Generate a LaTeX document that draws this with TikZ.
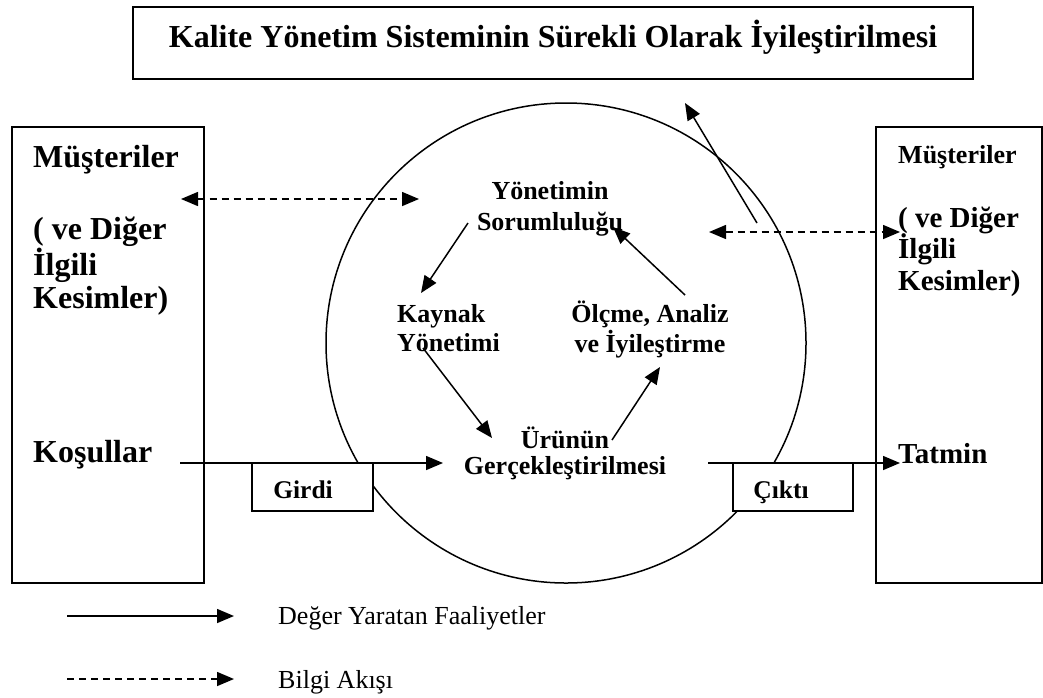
\documentclass[tikz,border=0pt]{standalone}
\usepackage{fontspec}
\setmainfont{Liberation Serif}
\usetikzlibrary{arrows.meta}
\newcommand{\myfs}[2]{\fontsize{#1}{#2}\selectfont}
\begin{document}
\begin{tikzpicture}[x=1pt,y=-1pt,
  frame/.style={draw, line width=1.6pt},
  tagbox/.style={draw, line width=1.6pt, fill=white},
  tip/.style={Triangle[length=17pt,width=14pt]},
  flow/.style={line width=1.5pt, -{Triangle[length=17pt,width=14pt]}},
  info/.style={line width=1.5pt, dash pattern=on 7pt off 5pt,
    {Triangle[length=17pt,width=14pt]}-{Triangle[length=17pt,width=14pt]}},
  infoleg/.style={line width=1.5pt, dash pattern=on 7pt off 5pt,
    -{Triangle[length=17pt,width=14pt]}},
  lbl/.style={inner sep=0pt, font=\bfseries},
]
\useasboundingbox (0,0) rectangle (1043,697);

% title frame
\draw[frame] (133,7) rectangle (973,79);
\node[lbl, anchor=base, font=\bfseries\myfs{32}{36}] (title) at (553,47)
  {Kalite Yönetim Sisteminin Sürekli Olarak İyileştirilmesi};

% side panels and the central process circle
\draw[frame] (12,127) rectangle (204,583);
\draw[frame] (876,127) rectangle (1042,583);
\draw[line width=1.5pt] (566,343) circle (240);

% input / output tags
\draw[tagbox] (252,463) rectangle (373,511);
\draw[tagbox] (733,463) rectangle (853,511);
\node[lbl, anchor=base, font=\bfseries\myfs{25.5}{28}] (girdi) at (303,498) {Girdi};
\node[lbl, anchor=base, font=\bfseries\myfs{25.5}{28}] (cikti) at (781,498) {Çıktı};

% left panel texts (multi-line nodes are placed by their last baseline)
\node[lbl, anchor=base west, font=\bfseries\myfs{32}{33}] (musL) at (33,167) {Müşteriler};
\node[lbl, anchor=base west, align=left, font=\bfseries\myfs{32}{33}] (digerL) at (33,308)
  {( ve Diğer\\İlgili\\Kesimler)};
\node[lbl, anchor=base west, font=\bfseries\myfs{32}{33}] (kosul) at (33,462) {Koşullar};

% right panel texts
\node[lbl, anchor=base west, font=\bfseries\myfs{26}{30}] (musR) at (898,163) {Müşteriler};
\node[lbl, anchor=base west, align=left, font=\bfseries\myfs{29}{31.5}] (digerR) at (898,290)
  {( ve Diğer\\İlgili\\Kesimler)};
\node[lbl, anchor=base west, font=\bfseries\myfs{29}{31}] (tatmin) at (898,463) {Tatmin};

% process texts
\node[lbl, anchor=base, align=center, font=\bfseries\myfs{26}{31}] (sorum) at (550,230)
  {Yönetimin\\Sorumluluğu};
\node[lbl, anchor=base west, align=left, font=\bfseries\myfs{26}{29}] (kaynak) at (397,351)
  {Kaynak\\Yönetimi};
\node[lbl, anchor=base, align=center, font=\bfseries\myfs{26}{30}] (olcme) at (650,352)
  {Ölçme, Analiz\\ve İyileştirme};
\node[lbl, anchor=base, align=center, font=\bfseries\myfs{26}{26}] (urun) at (565,474)
  {Ürünün\\Gerçekleştirilmesi};

% connector end points
\coordinate (kosulA) at (180,463);
\coordinate (kosulB) at (443,463);
\coordinate (ciktiA) at (708,463);
\coordinate (ciktiB) at (900,463);
\coordinate (infoLA) at (181,199);
\coordinate (infoLB) at (419,199);
\coordinate (infoRA) at (709,232);
\coordinate (infoRB) at (900,232);
\coordinate (upA) at (757,223);
\coordinate (upB) at (685,103);
\coordinate (s2kA) at (468,223);
\coordinate (s2kB) at (421,293);
\coordinate (k2uA) at (423,348);
\coordinate (k2uB) at (492,438);
\coordinate (u2oA) at (612,440);
\coordinate (u2oB) at (660,367);
\coordinate (o2sA) at (685,295);
\coordinate (o2sB) at (613,227);

% value flow
\draw[flow] (kosulA) -- (kosulB);
\draw[flow] (ciktiA) -- (ciktiB);
\draw[flow] (upA) -- (upB);
\draw[flow] (s2kA) -- (s2kB);
\draw[flow] (k2uA) -- (k2uB);
\draw[flow] (u2oA) -- (u2oB);
\draw[flow] (o2sA) -- (o2sB);

% information flow
\draw[info] (infoLA) -- (infoLB);
\draw[info] (infoRA) -- (infoRB);

% legend
\coordinate (legSA) at (67,616);
\coordinate (legSB) at (234,616);
\coordinate (legDA) at (67,679);
\coordinate (legDB) at (234,679);
\draw[flow] (legSA) -- (legSB);
\draw[infoleg] (legDA) -- (legDB);
\node[inner sep=0pt, anchor=base west, font=\myfs{26}{30}] (legS) at (278,624) {Değer Yaratan Faaliyetler};
\node[inner sep=0pt, anchor=base west, font=\myfs{26}{30}] (legD) at (278,688) {Bilgi Akışı};
\end{tikzpicture}
\end{document}
